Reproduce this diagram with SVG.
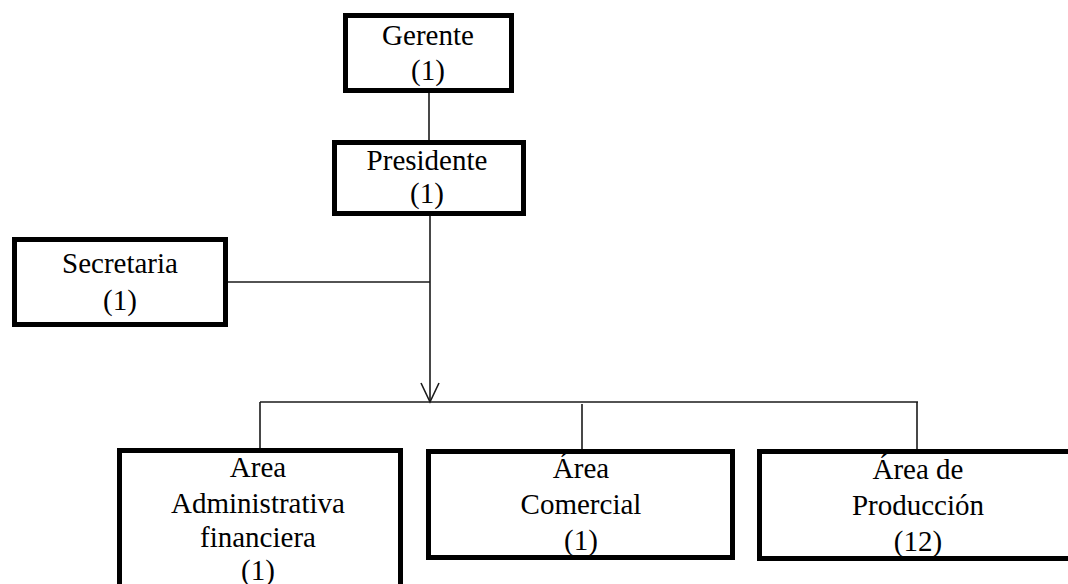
<svg xmlns="http://www.w3.org/2000/svg" width="1068" height="584" viewBox="0 0 1068 584">
<style>
.box{fill:#fff;stroke:#000;stroke-width:5}
.t{font-family:"Liberation Serif","Times New Roman",serif;font-size:29px;fill:#000;text-anchor:middle}
.c{stroke:#1a1a1a;stroke-width:1.6;fill:none}
</style>
<rect width="1068" height="584" fill="#fff"/>
<g id="connectors">
<line class="c" x1="429" y1="93" x2="429" y2="140"/>
<line class="c" x1="430" y1="216" x2="430" y2="402"/>
<line class="c" x1="228" y1="282" x2="430" y2="282"/>
<polyline class="c" points="421,383 430,402 439,383"/>
<line class="c" x1="260" y1="402" x2="918" y2="402"/>
<line class="c" x1="260" y1="402" x2="260" y2="448"/>
<line class="c" x1="582" y1="404" x2="582" y2="449"/>
<line class="c" x1="917" y1="402" x2="917" y2="449"/>
</g>
<g id="gerente">
<rect class="box" x="345.5" y="15.5" width="166" height="75"/>
<text class="t" x="428" y="45">Gerente</text>
<text class="t" x="428" y="80">(1)</text>
</g>
<g id="presidente">
<rect class="box" x="334.5" y="142.5" width="189" height="71"/>
<text class="t" x="427" y="170">Presidente</text>
<text class="t" x="427" y="203">(1)</text>
</g>
<g id="secretaria">
<rect class="box" x="14.5" y="239.5" width="211" height="85"/>
<text class="t" x="120" y="273">Secretaria</text>
<text class="t" x="120" y="310">(1)</text>
</g>
<g id="area-admin">
<rect class="box" x="119.5" y="450.5" width="281" height="200"/>
<text class="t" x="258" y="477">Area</text>
<text class="t" x="258" y="513">Administrativa</text>
<text class="t" x="258" y="547">financiera</text>
<text class="t" x="258" y="580">(1)</text>
</g>
<g id="area-comercial">
<rect class="box" x="428.5" y="451.5" width="304" height="106"/>
<text class="t" x="581" y="478">Área</text>
<text class="t" x="581" y="514">Comercial</text>
<text class="t" x="581" y="550">(1)</text>
</g>
<g id="area-produccion">
<rect class="box" x="759.5" y="451.5" width="330" height="107"/>
<text class="t" x="918" y="479">Área de</text>
<text class="t" x="918" y="515">Producción</text>
<text class="t" x="918" y="551">(12)</text>
</g>
</svg>
